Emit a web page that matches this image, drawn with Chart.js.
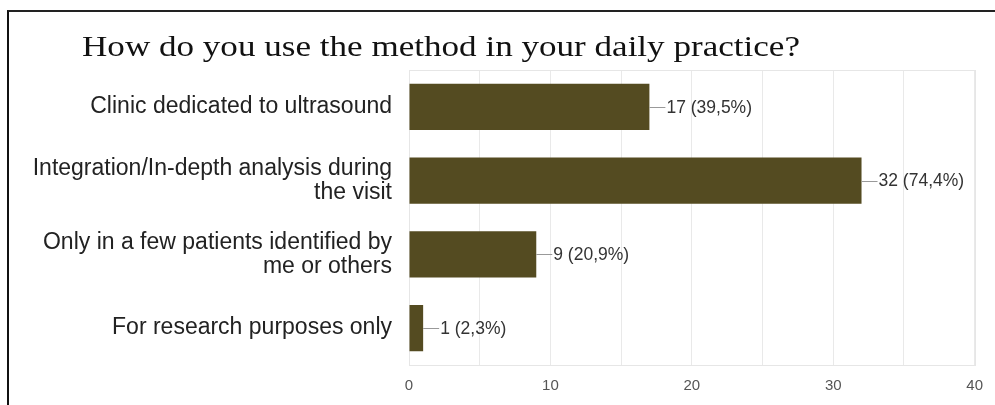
<!DOCTYPE html>
<html>
<head>
<meta charset="utf-8">
<script src="https://cdn.jsdelivr.net/npm/chart.js@4.4.1/dist/chart.umd.min.js"></script>
<style>
  html, body { margin: 0; padding: 0; background: #fff; }
  #wrap { position: relative; width: 995px; height: 405px; overflow: hidden; }
  #frame { position: absolute; left: 7px; top: 10px; width: 1000px; height: 420px;
           border-left: 2px solid #111; border-top: 2px solid #222; box-sizing: border-box; }
  canvas { position: absolute; left: 0; top: 0; }
</style>
</head>
<body>
<div id="wrap">
  <div id="frame"></div>
  <canvas id="c" width="995" height="405"></canvas>
</div>
<script>
const titleText = "How do you use the method in your daily practice?";
const categories = [
  ["Clinic dedicated to ultrasound"],
  ["Integration/In-depth analysis during", "the visit"],
  ["Only in a few patients identified by", "me or others"],
  ["For research purposes only"]
];
const counts = [17, 32, 9, 1];
const percents = ["39,5%", "74,4%", "20,9%", "2,3%"];
const xTicks = [0, 10, 20, 30, 40];

const frameAndLabels = {
  id: 'frameAndLabels',
  beforeDatasetsDraw(chart) {
    const {ctx, chartArea: a} = chart;
    ctx.save();
    ctx.strokeStyle = '#e6e6e6';
    ctx.lineWidth = 1;
    ctx.strokeRect(Math.round(a.left) + 0.5, Math.round(a.top) + 0.5,
                   Math.round(a.right - a.left), Math.round(a.bottom - a.top));
    ctx.restore();
  },
  afterDatasetsDraw(chart) {
    const {ctx} = chart;
    const meta = chart.getDatasetMeta(0);
    ctx.save();
    meta.data.forEach((bar, i) => {
      const x = bar.x, y = bar.y;
      ctx.strokeStyle = '#999';
      ctx.lineWidth = 1;
      ctx.beginPath();
      ctx.moveTo(x, Math.round(y) + 0.5);
      ctx.lineTo(x + 16, Math.round(y) + 0.5);
      ctx.stroke();
      ctx.fillStyle = '#333';
      ctx.font = '17.5px "Liberation Sans", Arial, sans-serif';
      ctx.textAlign = 'left';
      ctx.textBaseline = 'middle';
      ctx.fillText(counts[i] + ' (' + percents[i] + ')', x + 17, y + 1);
    });
    // title, horizontally stretched to the reference width
    ctx.fillStyle = '#111';
    ctx.font = '30px "Liberation Serif", "Times New Roman", serif';
    ctx.textAlign = 'left';
    ctx.textBaseline = 'alphabetic';
    const w = ctx.measureText(titleText).width;
    const sx = 718 / w;
    ctx.translate(82, 56);
    ctx.scale(sx, 1);
    ctx.fillText(titleText, 0, 0);
    ctx.restore();
  }
};

new Chart(document.getElementById('c'), {
  type: 'bar',
  data: {
    labels: categories,
    datasets: [{
      data: counts,
      backgroundColor: '#544b21',
      borderWidth: 0,
      barPercentage: 0.63,
      categoryPercentage: 1
    }]
  },
  options: {
    indexAxis: 'y',
    responsive: false,
    animation: false,
    events: [],
    layout: { padding: { top: 70, right: 19, left: 0, bottom: 0 } },
    plugins: { legend: { display: false }, tooltip: { enabled: false }, title: { display: false } },
    scales: {
      x: {
        min: 0, max: 40,
        ticks: {
          stepSize: 5,
          autoSkip: false,
          maxRotation: 0,
          padding: 12,
          color: '#555',
          font: { family: '"Liberation Sans", Arial, sans-serif', size: 15 },
          callback: (v) => xTicks.includes(v) ? String(v) : ''
        },
        grid: { color: '#e9e9e9', drawTicks: false },
        border: { display: false },
        afterFit(s) { s.height = 40; }
      },
      y: {
        ticks: {
          padding: 17,
          color: '#222',
          font: { family: '"Liberation Sans", Arial, sans-serif', size: 23, lineHeight: 1.05 }
        },
        grid: { display: false, drawTicks: false },
        border: { display: true, color: '#444', width: 1 },
        afterFit(s) { s.width = 409; }
      }
    }
  },
  plugins: [frameAndLabels]
});
</script>
</body>
</html>
